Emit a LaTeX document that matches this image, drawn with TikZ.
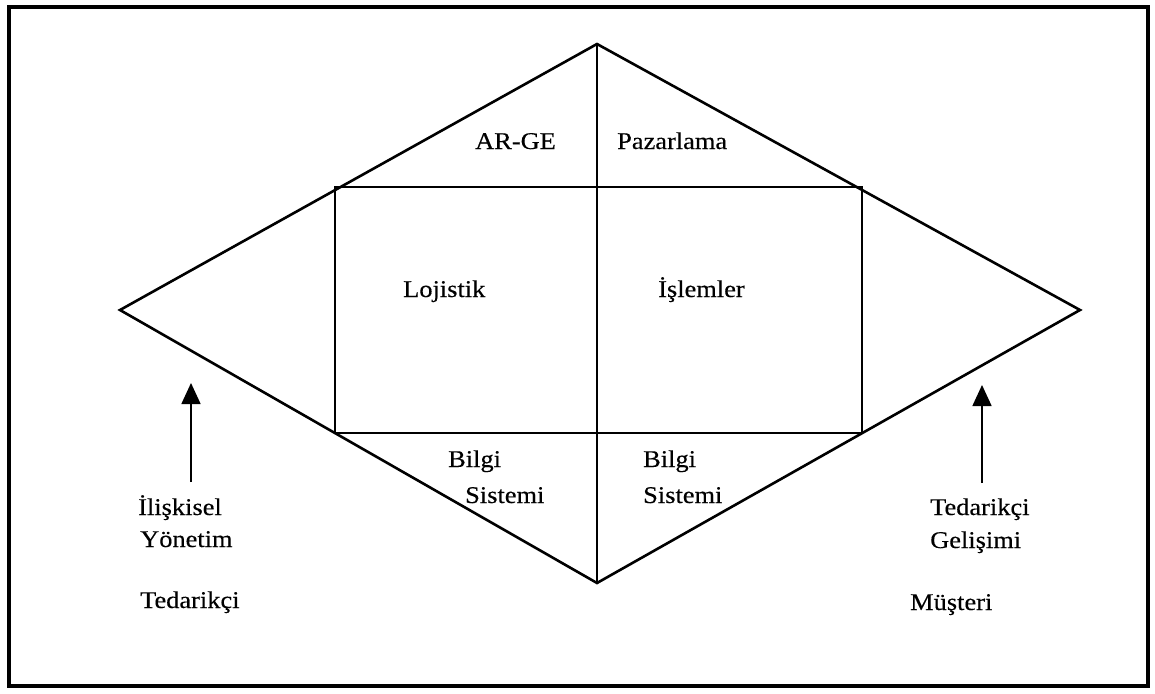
\documentclass[tikz,border=0pt]{standalone}
\usepackage{fontspec}
\setmainfont{Liberation Serif}[FakeBold=0.3]
\usetikzlibrary{arrows.meta}
\newcommand{\Lbl}[1]{\scalebox{1.1}[1]{#1}}
\begin{document}
\begin{tikzpicture}[x=1pt,y=-1pt,
  lbl/.style={inner sep=0pt, anchor=base west, font=\fontsize{24}{28}\selectfont},
  edge/.style={line width=2.6pt, line join=miter},
  thinline/.style={line width=1.6pt},
  arr/.style={line width=1.6pt, -{Triangle[length=21pt,width=19pt]}}]
\useasboundingbox (0,0) rectangle (1155,693);
\draw[line width=4pt] (9,7) rectangle (1148,686);
% diamond
\coordinate (T) at (597,44);
\coordinate (B) at (597,583);
\coordinate (L) at (120,310);
\coordinate (R) at (1080,310);
\coordinate (r1) at (335,187);
\coordinate (r2) at (862,433);
\draw[thinline] (r1) rectangle (r2);
\draw[thinline] (T) -- (B);
\draw[edge] (L) -- (T) -- (R) -- (B) -- cycle;
% arrows
\coordinate (la0) at (191,482);
\coordinate (la1) at (191,383);
\coordinate (ra0) at (982,483);
\coordinate (ra1) at (982,385);
\draw[arr] (la0) -- (la1);
\draw[arr] (ra0) -- (ra1);
% labels
\node[lbl] (arge) at (475,149) {\Lbl{AR-GE}};
\node[lbl] (paz) at (617,149) {\Lbl{Pazarlama}};
\node[lbl] (loj) at (403,297) {\Lbl{Lojistik}};
\node[lbl] (isl) at (658,297) {\Lbl{İşlemler}};
\node[lbl] (bl1) at (448,467) {\Lbl{Bilgi}};
\node[lbl] (bl2) at (465,503) {\Lbl{Sistemi}};
\node[lbl] (br1) at (643,467) {\Lbl{Bilgi}};
\node[lbl] (br2) at (643,503) {\Lbl{Sistemi}};
\node[lbl] (il) at (138,515) {\Lbl{İlişkisel}};
\node[lbl] (yo) at (140,547) {\Lbl{Yönetim}};
\node[lbl] (ted) at (140,608) {\Lbl{Tedarikçi}};
\node[lbl] (ted2) at (930,515) {\Lbl{Tedarikçi}};
\node[lbl] (gel) at (930,548) {\Lbl{Gelişimi}};
\node[lbl] (mus) at (910,610) {\Lbl{Müşteri}};
\end{tikzpicture}
\end{document}
